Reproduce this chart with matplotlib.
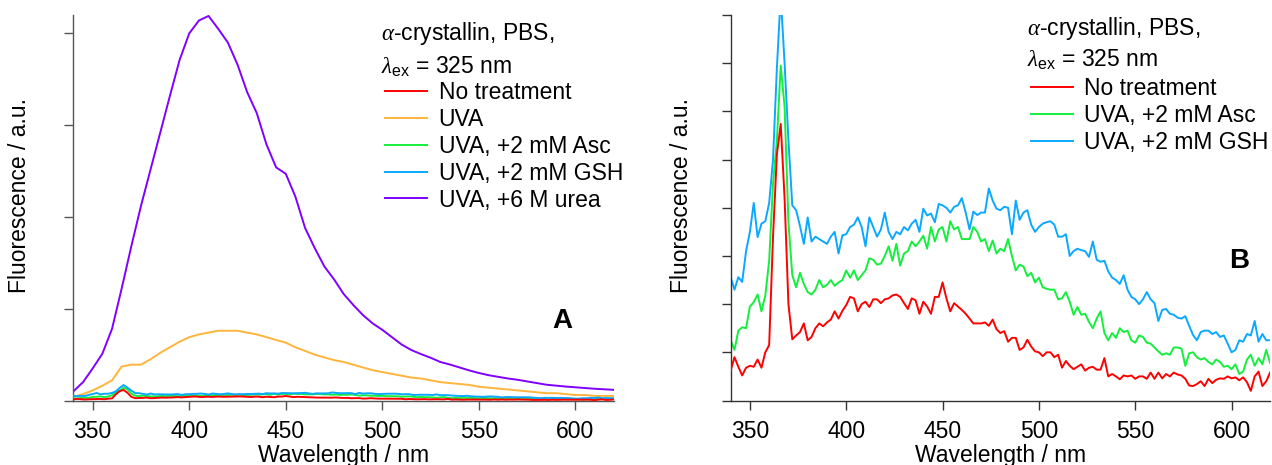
import numpy as np
import matplotlib.pyplot as plt

plt.rcParams['font.family'] = ['Liberation Sans', 'DejaVu Sans']
plt.rcParams['mathtext.fontset'] = 'custom'
plt.rcParams['mathtext.rm'] = 'Liberation Sans'
plt.rcParams['mathtext.it'] = 'Liberation Serif:italic'
plt.rcParams['mathtext.bf'] = 'Liberation Sans:bold'

# strong emission spectra, 5 nm step
wl_5 = np.arange(340, 621, 5)
uva = [2, 3.5, 5.5, 8, 11, 18.5, 19.5, 19.5, 22.5, 26,
       29, 32, 34.5, 36, 37, 38, 38, 38, 37, 36,
       34.5, 33, 31.5, 29, 27, 25, 23.5, 22, 21, 19.5,
       18, 16.5, 15.5, 14.5, 13.5, 12.5, 12, 11, 10, 9.5,
       9, 8.5, 7.5, 7, 6.5, 6, 5.5, 5, 4.5, 4,
       4, 3.5, 3, 3, 2.5, 2.5, 2.5]
urea = [5, 10, 17.5, 25.5, 39, 61, 84, 106, 126, 146,
        166, 185.5, 200, 207, 209.5, 202.5, 195, 183, 168, 156.5,
        139.5, 127, 123.5, 111, 94, 83, 73, 66, 58, 52,
        46.5, 42, 38.5, 34.5, 30.5, 27.5, 25.3, 23.3, 21, 19.6,
        18, 16.4, 15, 13.8, 12.9, 12, 11.3, 10.4, 9.5, 8.6,
        8.1, 7.6, 7.2, 6.8, 6.4, 6.1, 5.8]

# weak emission spectra, 2 nm step
wl_2 = np.arange(340, 621, 2)
no_treat = [0.62, 0.9, 0.7, 0.52, 0.68, 0.72, 0.7, 0.85, 0.68, 1.0,
            1.15, 3.4, 5.1, 5.74, 4.2, 2.0, 1.27, 1.35, 1.42, 1.6,
            1.25, 1.32, 1.5, 1.6, 1.54, 1.62, 1.68, 1.85, 1.7, 1.86,
            1.98, 2.15, 2.12, 1.85, 2.0, 2.05, 1.94, 2.1, 2.1, 2.02,
            2.1, 2.12, 2.18, 2.2, 2.15, 2.02, 1.9, 2.12, 2.08, 1.8,
            2.05, 1.95, 1.8, 2.15, 2.15, 2.45, 2.12, 1.85, 2.02, 1.95,
            1.88, 1.8, 1.7, 1.6, 1.6, 1.6, 1.62, 1.55, 1.68, 1.48,
            1.4, 1.44, 1.22, 1.3, 1.3, 1.05, 1.1, 1.26, 1.12, 1.02,
            1.0, 0.92, 1.0, 1.0, 0.9, 0.95, 0.68, 0.82, 0.72, 0.65,
            0.7, 0.75, 0.62, 0.68, 0.7, 0.64, 0.64, 0.88, 0.5, 0.55,
            0.5, 0.44, 0.52, 0.5, 0.52, 0.45, 0.5, 0.5, 0.45, 0.58,
            0.45, 0.58, 0.46, 0.55, 0.5, 0.58, 0.54, 0.52, 0.45, 0.31,
            0.3, 0.34, 0.4, 0.3, 0.45, 0.36, 0.43, 0.46, 0.45, 0.5,
            0.46, 0.48, 0.42, 0.48, 0.38, 0.2, 0.5, 0.6, 0.3, 0.4,
            0.58]
asc = [1.25, 1.05, 1.45, 1.52, 1.5, 1.95, 2.04, 2.2, 1.85, 2.18,
       2.9, 4.5, 5.4, 6.95, 6.1, 3.7, 2.6, 2.35, 2.65, 2.42,
       2.25, 2.2, 2.3, 2.5, 2.35, 2.4, 2.5, 2.38, 2.45, 2.5,
       2.7, 2.55, 2.7, 2.5, 2.6, 2.7, 2.95, 2.92, 2.82, 2.84,
       3.0, 3.2, 2.9, 3.25, 2.8, 3.05, 3.1, 3.3, 3.2, 3.3,
       3.42, 3.15, 3.6, 3.3, 3.55, 3.6, 3.3, 3.72, 3.55, 3.6,
       3.35, 3.35, 3.35, 3.6, 3.5, 3.3, 3.35, 3.1, 3.32, 3.05,
       3.15, 3.1, 3.35, 3.0, 2.7, 2.82, 2.78, 2.58, 2.65, 2.45,
       2.55, 2.35, 2.32, 2.3, 2.3, 2.1, 2.12, 2.25, 2.05, 1.78,
       1.94, 1.78, 1.8, 1.63, 1.5, 1.7, 1.85, 1.4, 1.25, 1.4,
       1.3, 1.5, 1.42, 1.45, 1.25, 1.2, 1.35, 1.32, 1.2, 1.18,
       1.1, 1.02, 0.95, 0.98, 0.95, 1.1, 1.1, 1.08, 0.72, 0.98,
       1.0, 0.9, 0.85, 0.88, 0.8, 0.75, 0.85, 0.8, 0.7, 0.72,
       0.65, 0.75, 0.55, 0.6, 0.85, 0.95, 0.72, 0.88, 0.75, 1.05,
       0.78]
gsh = [2.56, 2.3, 2.56, 2.46, 3.1, 3.5, 4.1, 3.39, 3.67, 3.72,
       4.1, 5.0, 6.9, 8.4, 7.0, 5.4, 4.05, 3.95, 3.62, 3.25,
       3.8, 3.3, 3.4, 3.35, 3.3, 3.25, 3.4, 3.5, 3.05, 3.43,
       3.45, 3.6, 3.65, 3.8, 3.6, 3.2, 3.8, 3.6, 3.4, 3.55,
       3.9, 3.5, 3.35, 3.5, 3.45, 3.6, 3.53, 3.67, 3.75, 3.5,
       3.98, 3.84, 3.88, 3.7, 4.08, 4.05, 4.0, 3.9, 4.02, 4.05,
       4.2, 3.9, 3.55, 3.92, 3.85, 3.9, 3.9, 4.4, 4.15, 3.98,
       3.95, 4.02, 4.0, 3.45, 4.15, 3.75, 3.9, 3.95, 3.65, 3.5,
       3.6, 3.67, 3.7, 3.72, 3.65, 3.4, 3.4, 3.45, 3.0, 3.1,
       3.15, 3.12, 3.1, 2.98, 3.3, 2.92, 2.88, 2.9, 2.68, 2.55,
       2.5, 2.42, 2.6, 2.3, 2.15, 2.1, 2.0, 2.1, 2.25, 2.1,
       2.02, 1.65, 1.88, 1.9, 1.8, 1.78, 1.72, 1.7, 1.75, 1.55,
       1.36, 1.25, 1.42, 1.45, 1.45, 1.38, 1.42, 1.32, 1.35, 1.18,
       1.0, 1.05, 1.25, 1.22, 1.38, 1.35, 1.65, 1.22, 1.38, 1.25,
       1.25]

labels = ['No treatment', 'UVA', 'UVA, +2 mM Asc', 'UVA, +2 mM GSH', 'UVA, +6 M urea']
colors = ['#ff0000', '#ffb43c', '#14ee3c', '#0aa8ff', '#7f00ff']

FS = 16.5
LW = 1.4

fig = plt.figure(figsize=(12.72, 4.65), dpi=100)
axA = fig.add_axes([0.0577, 0.1387, 0.4250, 0.8290])
axB = fig.add_axes([0.5744, 0.1387, 0.4241, 0.8290])


def style(ax, ymax, ystep, axcol, ylab_x):
    ax.set_xlim(340, 620)
    ax.set_ylim(0, ymax)
    ax.set_xticks(range(350, 601, 50))
    ax.set_yticks(np.arange(0, ymax + 0.01, ystep))
    ax.set_yticklabels([])
    for s in ('top', 'right'):
        ax.spines[s].set_visible(False)
    for s in ('left', 'bottom'):
        ax.spines[s].set_color(axcol)
        ax.spines[s].set_linewidth(1.0)
    ax.tick_params(direction='out', length=6.5, width=1.0, color=axcol,
                   labelsize=FS, pad=7.5)
    ax.set_xlabel('Wavelength / nm', fontsize=FS)
    ax.xaxis.set_label_coords(0.5, -0.112)
    ax.set_ylabel('Fluorescence / a.u.', fontsize=FS)
    ax.yaxis.set_label_coords(ylab_x, 0.533)


def header(ax, x, y1, y2):
    ax.text(x, y1, r'$\alpha$-crystallin, PBS,', transform=ax.transAxes,
            fontsize=FS, va='baseline')
    ax.text(x, y2, r'$\lambda_{\mathrm{ex}}$ = 325 nm', transform=ax.transAxes,
            fontsize=FS, va='baseline')


def legend(ax, handles, x, y):
    ax.legend(handles=handles, loc='upper left', bbox_to_anchor=(x, y),
              frameon=False, fontsize=FS, handlelength=1.83, handletextpad=0.52,
              labelspacing=0.17, borderpad=0, borderaxespad=0)


# panel A: all samples
series = [no_treat, uva, asc, gsh, urea]
grids = [wl_2, wl_5, wl_2, wl_2, wl_5]
order = [5, 2, 3, 4, 1]
hA = []
for y, x, c, z, lab in zip(series, grids, colors, order, labels):
    line, = axA.plot(x, y, color=c, lw=LW, zorder=z, label=lab)
    hA.append(line)
style(axA, 210, 50, '#555555', -0.0784)
header(axA, 0.569, 0.935, 0.847)
legend(axA, hA, 0.576, 0.829)
axA.text(0.904, 0.188, 'A', transform=axA.transAxes, fontsize=20,
         fontweight='bold', ha='center', va='baseline')

# panel B: weak spectra, expanded scale
hB = []
for y, c, z, lab in zip([no_treat, asc, gsh], [colors[0], colors[2], colors[3]],
                        [3, 2, 1], [labels[0], labels[2], labels[3]]):
    line, = axB.plot(wl_2, y, color=c, lw=LW, zorder=z, label=lab)
    hB.append(line)
style(axB, 8, 1, '#333333', -0.069)
header(axB, 0.5485, 0.948, 0.865)
legend(axB, hB, 0.556, 0.838)
axB.text(0.942, 0.3437, 'B', transform=axB.transAxes, fontsize=20,
         fontweight='bold', ha='center', va='baseline')

fig.savefig('out.png', dpi=100)
